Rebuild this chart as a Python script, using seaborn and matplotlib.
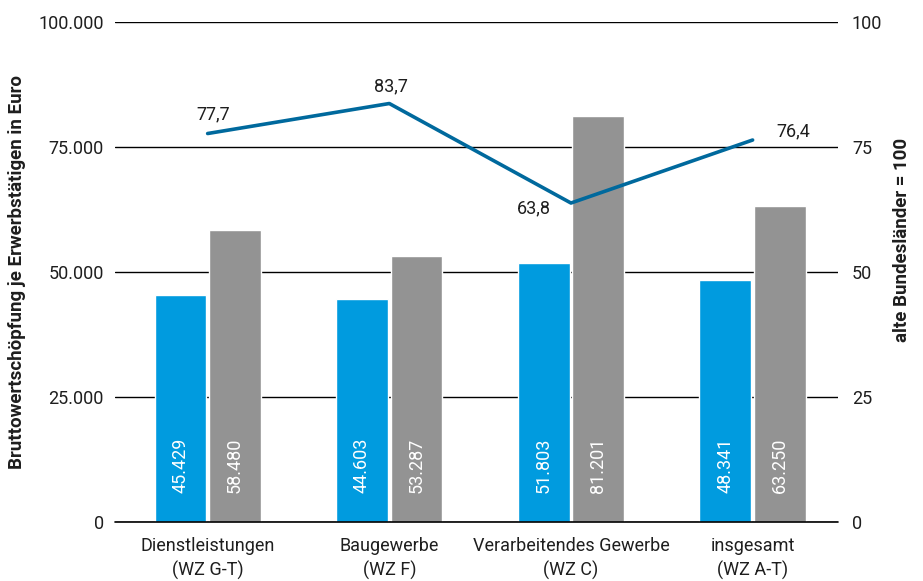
import matplotlib
matplotlib.use("Agg")
import matplotlib.pyplot as plt
from matplotlib.ticker import FuncFormatter
import seaborn as sns
import pandas as pd

# Bruttowertschöpfung je Erwerbstätigen (Euro) und Index (alte Bundesländer = 100)
categories = ["Dienstleistungen\n(WZ G-T)", "Baugewerbe\n(WZ F)",
              "Verarbeitendes Gewerbe\n(WZ C)", "insgesamt\n(WZ A-T)"]
series_names = ["Region", "alte Bundesländer"]
values_region = [45429, 44603, 51803, 48341]
values_west = [58480, 53287, 81201, 63250]
index_values = [77.7, 83.7, 63.8, 76.4]
left_ticks = [0, 25000, 50000, 75000, 100000]
right_ticks = [0, 25, 50, 75, 100]

BLUE = "#009bdf"
GREY = "#939393"
LINE = "#00699d"
TEXT = "#1e1e1e"

sns.set_theme(style="white")
plt.rcParams["font.family"] = ["Roboto", "DejaVu Sans"]

df = pd.DataFrame({
    "Kategorie": categories * 2,
    "Serie": [series_names[0]] * 4 + [series_names[1]] * 4,
    "Wert": values_region + values_west,
})
df_idx = pd.DataFrame({"Kategorie": categories, "Index": index_values})

fig = plt.figure(figsize=(9.23, 5.81), dpi=100)
ax = fig.add_axes([0.1246, 0.1015, 0.7833, 0.8606])

sns.barplot(data=df, x="Kategorie", y="Wert", hue="Serie",
            palette=[BLUE, GREY], width=0.6, gap=0.05,
            saturation=1, legend=False, ax=ax, zorder=3)

ax.set_ylim(0, 100000)
ax.set_xlim(-0.51, 3.47)
ax.set_yticks(left_ticks)
ax.yaxis.set_major_formatter(FuncFormatter(lambda v, p: f"{int(v):,}".replace(",", ".")))
ax.yaxis.grid(True, color="black", linewidth=1)
ax.set_axisbelow(True)
ax.axhline(0, color="black", linewidth=1.2, clip_on=False, zorder=4)
for s in ax.spines.values():
    s.set_visible(False)
ax.tick_params(axis="both", length=0, labelsize=13, colors=TEXT)
ax.tick_params(axis="y", pad=8)
ax.tick_params(axis="x", pad=11)
for lbl in ax.get_xticklabels():
    lbl.set_linespacing(1.4)
ax.set_xlabel("")
ax.set_ylabel("Bruttowertschöpfung je Erwerbstätigen in Euro",
              fontsize=13.5, fontweight="bold", color=TEXT)
ax.yaxis.set_label_coords(-0.123, 0.5)

# value labels inside the bars
for cont in ax.containers:
    for bar in cont:
        h = bar.get_height()
        ax.text(bar.get_x() + bar.get_width() / 2, 5800,
                f"{int(h):,}".replace(",", "."), rotation=90,
                ha="center", va="bottom", color="white", fontsize=13, zorder=4)

# index line on the secondary axis
ax2 = ax.twinx()
sns.lineplot(data=df_idx, x="Kategorie", y="Index", color=LINE,
             linewidth=2.6, ax=ax2, sort=False, zorder=5)
ax2.set_ylim(0, 100)
ax2.set_xlim(-0.51, 3.47)
ax2.set_yticks(right_ticks)
for s in ax2.spines.values():
    s.set_visible(False)
ax2.tick_params(axis="y", length=0, labelsize=13, colors=TEXT, pad=10)
ax2.set_ylabel("alte Bundesländer = 100", fontsize=13.5, fontweight="bold", color=TEXT)
ax2.yaxis.set_label_coords(1.076, 0.565)

offsets = [(4, 14), (1, 12), (-27, -4), (29, 6.5)]
for i, (v, off) in enumerate(zip(index_values, offsets)):
    ax2.annotate(f"{v:.1f}".replace(".", ","), (i, v), xytext=off,
                 textcoords="offset points", ha="center", va="center",
                 fontsize=13, color=TEXT)

fig.savefig("out.png", dpi=100)
